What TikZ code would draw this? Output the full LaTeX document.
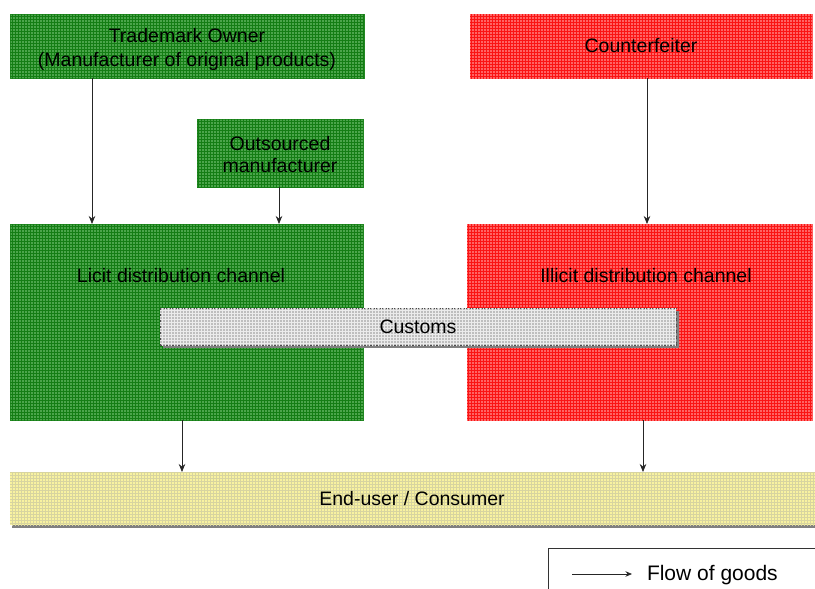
\documentclass[tikz,border=0pt]{standalone}
\usepackage{fontspec}
\setmainfont{Liberation Sans}
\usetikzlibrary{patterns,shadows,arrows.meta}
\definecolor{gbase}{RGB}{75,165,75}
\definecolor{gline}{RGB}{20,125,20}
\definecolor{rbase}{RGB}{255,100,100}
\definecolor{rline}{RGB}{250,20,20}
\definecolor{cbase}{RGB}{190,190,190}
\definecolor{cline}{RGB}{235,235,235}
\definecolor{ybase}{RGB}{248,242,160}
\definecolor{yline}{RGB}{215,212,160}
\begin{document}
\begin{tikzpicture}[x=1pt,y=-1pt,
  every node/.style={inner sep=0pt,outer sep=0pt,font=\fontsize{19.5}{24}\selectfont},
  greenbox/.style={draw=gline!70!gbase,fill=gbase,postaction={pattern=grid,pattern color=gline},anchor=north west},
  redbox/.style={draw=rbase,fill=rbase,postaction={pattern=grid,pattern color=rline},anchor=north west},
  custbox/.style={draw=black!70,dashed,fill=cbase,postaction={pattern=grid,pattern color=cline},anchor=north west,
    drop shadow={shadow xshift=2.5pt,shadow yshift=-2.5pt,fill=black!50,opacity=1}},
  userbox/.style={fill=ybase,postaction={pattern=grid,pattern color=yline},anchor=north west,
    drop shadow={shadow xshift=2pt,shadow yshift=-2.5pt,fill=black!50,opacity=1}},
  flow/.style={draw=black!85,line width=0.8pt,-{Stealth[length=8pt,width=6.5pt]}},
  lbl/.style={align=center}]
\useasboundingbox (0,0) rectangle (815,589);
% top boxes
\node[greenbox,minimum width=354pt,minimum height=64pt] (owner) at (10,14) {};
\node[lbl] (ownert) at ([yshift=-3pt]owner.center) {Trademark Owner\\(Manufacturer of original products)};
\node[greenbox,minimum width=166pt,minimum height=68pt] (outs) at (197,119) {};
\node[lbl,font=\fontsize{19.5}{22}\selectfont] (outst) at ([yshift=-2pt]outs.center) {Outsourced\\manufacturer};
\node[redbox,minimum width=342pt,minimum height=64pt] (cf) at (470,14) {};
\node[lbl] (cft) at (cf.center) {Counterfeiter};
% channels
\node[greenbox,minimum width=353pt,minimum height=196pt] (licit) at (10,224) {};
\node[lbl] (licitt) at (181,276) {Licit distribution channel};
\node[redbox,minimum width=345pt,minimum height=196pt] (illicit) at (467,224) {};
\node[lbl] (illicitt) at (646,276) {Illicit distribution channel};
% customs
\node[custbox,minimum width=516pt,minimum height=37pt] (cust) at (160,308) {};
\node[lbl] (custt) at (cust.center) {Customs};
% end user
\node[userbox,minimum width=810pt,minimum height=53pt] (user) at (10,472) {};
\node[lbl] (usert) at (412,499) {End-user / Consumer};
% connectors
\draw[flow] ([xshift=82pt]owner.south west) -- ([xshift=82pt]licit.north west);
\draw[flow] ([xshift=82pt]outs.south west) -- ([xshift=82pt]outs.south west |- licit.north);
\draw[flow] ([xshift=177pt]cf.south west) -- ([xshift=177pt]cf.south west |- illicit.north);
\draw[flow] ([xshift=172pt]licit.south west) -- ([xshift=172pt]licit.south west |- user.north);
\draw[flow] ([xshift=176pt]illicit.south west) -- ([xshift=176pt]illicit.south west |- user.north);
% legend
\coordinate (lg1) at (548.5,590);
\coordinate (lg2) at (548.5,548);
\coordinate (lg3) at (816,548);
\draw[black!80,line width=0.7pt] (lg1) -- (lg2) -- (lg3);
\coordinate (la) at (572,574);
\coordinate (lb) at (632,574);
\draw[flow,line width=0.7pt,-{Stealth[length=6.5pt,width=5.5pt]}] (la) -- (lb);
\node[anchor=west,font=\fontsize{21}{24}\selectfont] (legt) at (647,575) {Flow of goods};
\end{tikzpicture}
\end{document}
